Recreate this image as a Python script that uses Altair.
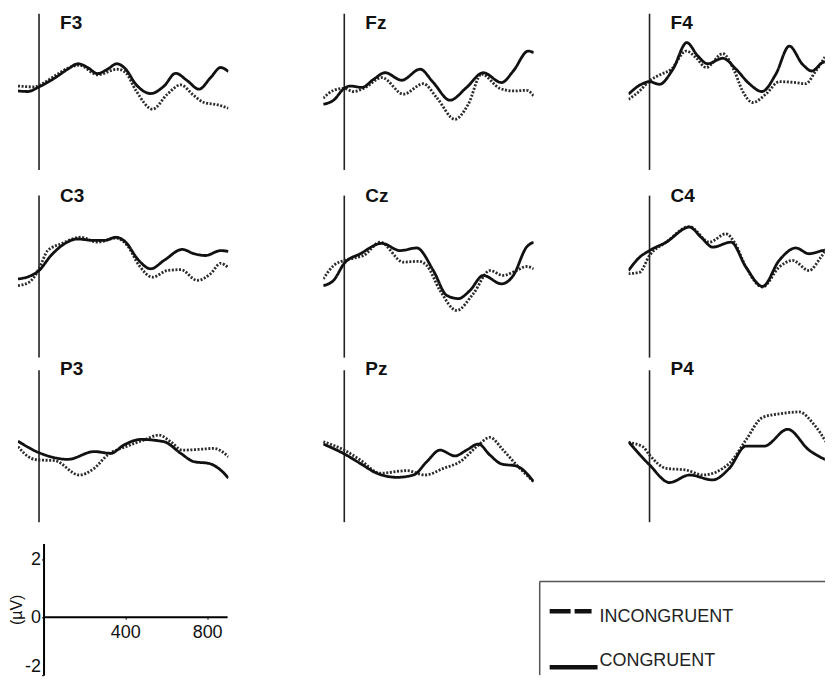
import altair as alt
import pandas as pd

# ---------------- data (time in ms, amplitude in µV) ----------------
F3_con_t = [-100, -54, 0, 73, 136, 186, 231, 278, 325, 370, 412, 460, 531, 594, 649, 705, 760, 815, 863, 900]
F3_con_v = [-0.07, -0.09, 0.07, 0.37, 0.68, 0.87, 0.74, 0.53, 0.68, 0.87, 0.68, 0.16, -0.16, 0.10, 0.54, 0.28, -0.01, 0.39, 0.74, 0.60]
F3_inc_t = [-100, -22, 25, 88, 144, 191, 278, 373, 412, 460, 539, 610, 673, 736, 784, 850, 900]
F3_inc_v = [0.10, 0.07, 0.22, 0.51, 0.74, 0.82, 0.49, 0.68, 0.56, -0.05, -0.70, -0.18, 0.14, -0.23, -0.47, -0.55, -0.67]

Fz_con_t = [-100, -51, 0, 28, 84, 139, 194, 273, 360, 423, 502, 581, 660, 747, 803, 874, 900]
Fz_con_v = [-0.53, -0.39, 0.02, 0.10, 0.05, 0.33, 0.56, 0.30, 0.68, 0.22, -0.39, 0.05, 0.56, 0.22, 0.62, 1.31, 1.25]
Fz_inc_t = [-100, -51, -3, 44, 92, 179, 281, 376, 439, 526, 589, 652, 739, 803, 866, 900]
Fz_inc_v = [-0.32, -0.05, 0.02, -0.09, 0.02, 0.39, -0.18, 0.18, -0.30, -1.05, -0.53, 0.51, 0.02, -0.07, -0.05, -0.24]

F4_con_t = [-100, -39, 0, 47, 111, 177, 229, 276, 348, 411, 474, 534, 600, 664, 727, 771, 822, 872, 900]
F4_con_v = [-0.18, 0.16, 0.25, 0.16, 0.68, 1.60, 1.14, 0.87, 1.06, 0.68, 0.18, -0.09, 0.51, 1.48, 0.85, 0.62, 0.91, 0.99, 1.00]
F4_inc_t = [-100, -47, 0, 47, 103, 174, 221, 269, 348, 403, 442, 490, 553, 616, 695, 742, 790, 872, 900]
F4_inc_v = [-0.36, -0.07, 0.28, 0.48, 0.68, 1.31, 1.08, 0.74, 1.22, 0.62, -0.07, -0.47, -0.18, 0.25, 0.22, 0.18, 0.62, 1.43, 1.50]

C3_con_t = [-100, -46, 0, 57, 120, 183, 262, 310, 365, 412, 468, 531, 594, 681, 736, 791, 863, 900]
C3_con_v = [-0.43, -0.34, -0.14, 0.38, 0.78, 0.95, 0.90, 0.90, 1.01, 0.84, 0.26, -0.08, 0.21, 0.59, 0.44, 0.38, 0.55, 0.52]
C3_inc_t = [-100, -46, 0, 41, 104, 199, 278, 365, 420, 476, 539, 610, 673, 752, 815, 863, 900]
C3_inc_v = [-0.66, -0.54, -0.08, 0.55, 0.78, 1.01, 0.84, 0.98, 0.72, 0.03, -0.37, -0.14, -0.11, -0.48, -0.25, 0.11, -0.05]

Cz_con_t = [-100, -51, 0, 76, 179, 265, 344, 423, 487, 542, 597, 660, 747, 803, 866, 900]
Cz_con_v = [-0.66, -0.48, 0.11, 0.44, 0.80, 0.55, 0.64, -0.14, -1.00, -1.11, -0.83, -0.31, -0.60, -0.31, 0.67, 0.84]
Cz_inc_t = [-100, -51, 0, 52, 92, 171, 281, 352, 392, 455, 534, 613, 692, 755, 818, 866, 900]
Cz_inc_v = [-0.43, 0.03, 0.21, 0.30, 0.38, 0.84, 0.15, 0.18, 0.03, -0.83, -1.52, -0.94, -0.14, -0.31, -0.14, 0.00, -0.08]

C4_con_t = [-100, -47, 0, 79, 190, 245, 300, 387, 458, 537, 616, 695, 758, 822, 872, 900]
C4_con_v = [-0.14, 0.32, 0.55, 0.84, 1.36, 1.01, 0.67, 0.84, -0.02, -0.69, 0.21, 0.64, 0.44, 0.55, 0.61, 0.63]
C4_inc_t = [-100, -47, 0, 79, 190, 284, 363, 403, 458, 537, 616, 679, 758, 814, 872, 900]
C4_inc_v = [-0.25, -0.20, 0.38, 0.84, 1.38, 0.84, 1.13, 0.84, -0.02, -0.71, -0.02, 0.21, -0.14, 0.32, 0.90, 1.00]

P3_con_t = [-100, 0, 57, 136, 262, 341, 404, 483, 594, 673, 736, 807, 863, 900]
P3_con_v = [0.10, -0.30, -0.44, -0.53, -0.26, -0.32, -0.03, 0.16, 0.08, -0.32, -0.61, -0.67, -0.90, -1.18]
P3_inc_t = [-100, -38, 0, 73, 191, 262, 325, 420, 499, 570, 626, 681, 768, 831, 900]
P3_inc_v = [-0.09, -0.49, -0.55, -0.57, -1.07, -0.84, -0.38, -0.07, 0.14, 0.31, 0.08, -0.21, -0.18, -0.15, -0.44]

Pz_con_t = [-100, 0, 76, 155, 250, 329, 392, 455, 526, 581, 637, 692, 747, 818, 900]
Pz_con_v = [0.00, -0.34, -0.67, -1.01, -1.15, -1.07, -0.61, -0.21, -0.41, -0.21, 0.00, -0.38, -0.69, -0.76, -1.30]
Pz_inc_t = [-100, 0, 76, 171, 297, 384, 471, 550, 629, 692, 755, 818, 900]
Pz_inc_v = [0.08, -0.21, -0.55, -1.01, -0.92, -1.07, -0.84, -0.61, -0.09, 0.23, -0.21, -0.72, -1.30]

P4_con_t = [-100, 0, 95, 190, 300, 379, 458, 545, 656, 758, 822, 872, 900]
P4_con_v = [0.08, -0.72, -1.33, -1.07, -1.24, -0.84, -0.07, -0.07, 0.51, -0.21, -0.49, -0.64, -0.70]
P4_inc_t = [-100, -32, 0, 79, 174, 253, 379, 458, 537, 632, 711, 790, 872, 900]
P4_inc_v = [0.05, -0.09, -0.38, -0.84, -0.90, -1.07, -0.67, 0.14, 0.92, 1.06, 1.11, 0.60, -0.26, -0.45]

ELECTRODE_ROWS = [["F3", "Fz", "F4"], ["C3", "Cz", "C4"], ["P3", "Pz", "P4"]]
CONDITIONS = ["INCONGRUENT", "CONGRUENT"]
SCALE_Y_TICKS = [-2, 0, 2]
SCALE_X_TICKS = [400, 800]
SCALE_Y_TITLE = "(µV)"

SERIES = {
    "F3": ((F3_inc_t, F3_inc_v), (F3_con_t, F3_con_v)),
    "Fz": ((Fz_inc_t, Fz_inc_v), (Fz_con_t, Fz_con_v)),
    "F4": ((F4_inc_t, F4_inc_v), (F4_con_t, F4_con_v)),
    "C3": ((C3_inc_t, C3_inc_v), (C3_con_t, C3_con_v)),
    "Cz": ((Cz_inc_t, Cz_inc_v), (Cz_con_t, Cz_con_v)),
    "C4": ((C4_inc_t, C4_inc_v), (C4_con_t, C4_con_v)),
    "P3": ((P3_inc_t, P3_inc_v), (P3_con_t, P3_con_v)),
    "Pz": ((Pz_inc_t, Pz_inc_v), (Pz_con_t, Pz_con_v)),
    "P4": ((P4_inc_t, P4_inc_v), (P4_con_t, P4_con_v)),
}

records = []
for name, pair in SERIES.items():
    for cond, (ts, vs) in zip(CONDITIONS, pair):
        for t, v in zip(ts, vs):
            records.append({"electrode": name, "condition": cond, "t": t, "v": v})
df = pd.DataFrame(records)

# ---------------- layout ----------------
PX_MS = 0.211
PX_UV = 29.0
T0 = -100
COL_T1 = [900, 900, 833]          # the right column is cut by the page edge, as in the original
V0, V1 = -3.3, 2.7
PH = (V1 - V0) * PX_UV
COL_GAP = 95
ROW_GAP = 4
ROW_MARKER = [(2.6, -2.8), (2.45, -3.15), (2.55, -2.7)]
ROW_LABEL_V = [2.07, 2.24, 2.38]
LABEL_T = 100
INK = "#111111"
FONT = "Liberation Sans"
NARROW = "Liberation Sans Narrow, Liberation Sans, Arial"


def panel(name, r, c):
    t1 = COL_T1[c]
    xs = alt.Scale(domain=[T0, t1], nice=False, zero=False)
    ys = alt.Scale(domain=[V0, V1], nice=False, zero=False)
    d = df[df["electrode"] == name]
    lines = alt.Chart(d).mark_line(interpolate="monotone", strokeWidth=2.8, clip=True).encode(
        x=alt.X("t:Q", scale=xs, axis=None),
        y=alt.Y("v:Q", scale=ys, axis=None),
        strokeDash=alt.StrokeDash("condition:N", scale=alt.Scale(domain=CONDITIONS, range=[[2, 1.6], [1, 0]]), legend=None),
        color=alt.Color("condition:N", scale=alt.Scale(domain=CONDITIONS, range=["#2b2b2b", INK]), legend=None),
    )
    top, bot = ROW_MARKER[r]
    marker = alt.Chart(pd.DataFrame({"t": [0], "top": [top], "bot": [bot]})).mark_rule(
        color="#222222", strokeWidth=1.6
    ).encode(
        x=alt.X("t:Q", scale=xs, axis=None),
        y=alt.Y("top:Q", scale=ys, axis=None),
        y2="bot:Q",
    )
    label = alt.Chart(pd.DataFrame({"t": [LABEL_T], "v": [ROW_LABEL_V[r]], "name": [name]})).mark_text(
        align="left", baseline="alphabetic", font=FONT, fontWeight="bold", fontSize=19, color=INK
    ).encode(
        x=alt.X("t:Q", scale=xs, axis=None),
        y=alt.Y("v:Q", scale=ys, axis=None),
        text="name:N",
    )
    return alt.layer(marker, lines, label).properties(width=(t1 - T0) * PX_MS, height=PH)


# ---------------- calibration scale ----------------
ST0, ST1 = -125, 900
SPX_MS = 0.205
SV0, SV1 = -2.0, 2.55
SW = (ST1 - ST0) * SPX_MS
SH = (SV1 - SV0) * PX_UV
sxs = alt.Scale(domain=[ST0, ST1], nice=False, zero=False)
sys_ = alt.Scale(domain=[SV0, SV1], nice=False, zero=False)

scale_panel = alt.Chart(pd.DataFrame({"t0": [0], "t1": [ST1], "v": [0]})).mark_rule(
    color="black", strokeWidth=2
).encode(
    x=alt.X(
        "t0:Q", scale=sxs,
        axis=alt.Axis(values=SCALE_X_TICKS, offset=-(0 - SV0) * PX_UV, domain=False, title=None,
                      tickSize=2, tickColor="black", labelPadding=4, labelFont=NARROW, labelFontSize=18,
                      labelColor=INK, grid=False),
    ),
    x2="t1:Q",
    y=alt.Y(
        "v:Q", scale=sys_,
        axis=alt.Axis(values=SCALE_Y_TICKS, offset=-(0 - ST0) * SPX_MS, title=SCALE_Y_TITLE,
                      labelExpr="datum.value + ''", labelFlush=True, domainColor="black", domainWidth=2,
                      tickSize=2, tickColor="black", labelPadding=1, labelFont=NARROW, labelFontSize=18,
                      labelColor=INK, titleFont=NARROW, titleFontSize=16, titleFontWeight="normal",
                      titleColor=INK, titlePadding=0, grid=False),
    ),
).properties(width=SW, height=SH)

# ---------------- legend box (sits in the second column of the bottom row) ----------------
LW, LH = (COL_T1[1] - T0) * PX_MS, SH
BOX_X, BOX_Y, BOX_R = 217, 38, 503
lxs = alt.Scale(domain=[0, LW], nice=False, zero=False)
lys = alt.Scale(domain=[0, LH], nice=False, zero=False, reverse=True)
edges = pd.DataFrame({
    "x0": [BOX_X, BOX_X], "x1": [BOX_R, BOX_X],
    "y0": [BOX_Y, BOX_Y], "y1": [BOX_Y, LH],
})
box = alt.Chart(edges).mark_rule(color="#555555", strokeWidth=1.5).encode(
    x=alt.X("x0:Q", scale=lxs, axis=None), x2="x1:Q",
    y=alt.Y("y0:Q", scale=lys, axis=None), y2="y1:Q",
)
leg_df = pd.DataFrame({
    "label": CONDITIONS,
    "x0": [BOX_X + 10, BOX_X + 10],
    "x1": [BOX_X + 52, BOX_X + 58],
    "ys": [68, 124],
    "yt": [74, 118],
    "xt": [BOX_X + 60, BOX_X + 60],
})
dash_sample = alt.Chart(leg_df.iloc[[0]]).mark_rule(color=INK, strokeWidth=4.5, strokeDash=[21, 4]).encode(
    x=alt.X("x0:Q", scale=lxs, axis=None), x2="x1:Q", y=alt.Y("ys:Q", scale=lys, axis=None)
)
solid_sample = alt.Chart(leg_df.iloc[[1]]).mark_rule(color=INK, strokeWidth=4.5).encode(
    x=alt.X("x0:Q", scale=lxs, axis=None), x2="x1:Q", y=alt.Y("ys:Q", scale=lys, axis=None)
)
leg_text = alt.Chart(leg_df).mark_text(
    align="left", baseline="middle", font=FONT, fontSize=18, color="#222222"
).encode(
    x=alt.X("xt:Q", scale=lxs, axis=None), y=alt.Y("yt:Q", scale=lys, axis=None), text="label:N"
)
legend_panel = alt.layer(box, dash_sample, solid_sample, leg_text).properties(width=LW, height=LH)

cells = [panel(n, r, c) for r, row in enumerate(ELECTRODE_ROWS) for c, n in enumerate(row)]
cells += [scale_panel, legend_panel]

chart = (
    alt.concat(*cells, columns=3, spacing={"row": ROW_GAP, "column": COL_GAP}, bounds="flush", align="each")
    .properties(padding={"left": 0, "top": 2, "right": 0, "bottom": 0})
    .configure(font=FONT, background="white")
    .configure_view(stroke=None)
)

chart.save("out.html", embed_options={"renderer": "svg", "actions": False})
